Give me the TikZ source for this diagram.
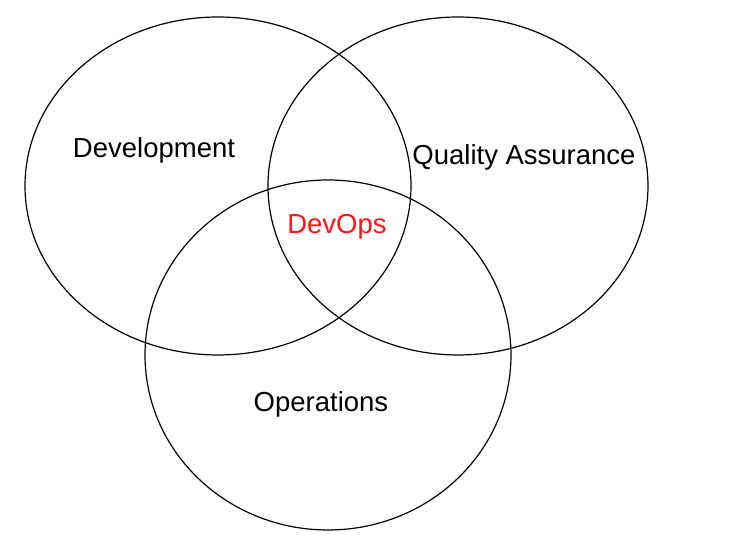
\documentclass[tikz,border=0pt]{standalone}
\usepackage{fontspec}
\setmainfont{Liberation Sans}
\usetikzlibrary{shapes.geometric}

\tikzset{
  estilo venn/.style={
      x=0.5pt, y=-0.5pt,
      conjunto/.style={ellipse, draw, line width=0.6pt, inner sep=0pt},
      rotulo/.style={font={\fontsize{13.75}{16}\selectfont}, inner sep=0pt},
    },
}

\begin{document}
\begin{tikzpicture}[estilo venn]
            \useasboundingbox (0,0) rectangle (736,544);
            \node[conjunto, minimum width=193pt, minimum height=169pt] (dev) at (218,186) {};
            \node[conjunto, minimum width=190pt, minimum height=169pt] (qa) at (458,186) {};
            \node[conjunto, minimum width=183pt, minimum height=175pt] (ops) at (328,355) {};

            \node[rotulo] (dev-txt) at (154,150) {Development};
            \node[rotulo] (qa-txt) at (524,157) {Quality Assurance};
            \node[rotulo, text=red!90!pink] (devops) at (337,227) {DevOps};
            \node[rotulo] (ops-txt) at (321,404) {Operations};
          \end{tikzpicture}
\end{document}
